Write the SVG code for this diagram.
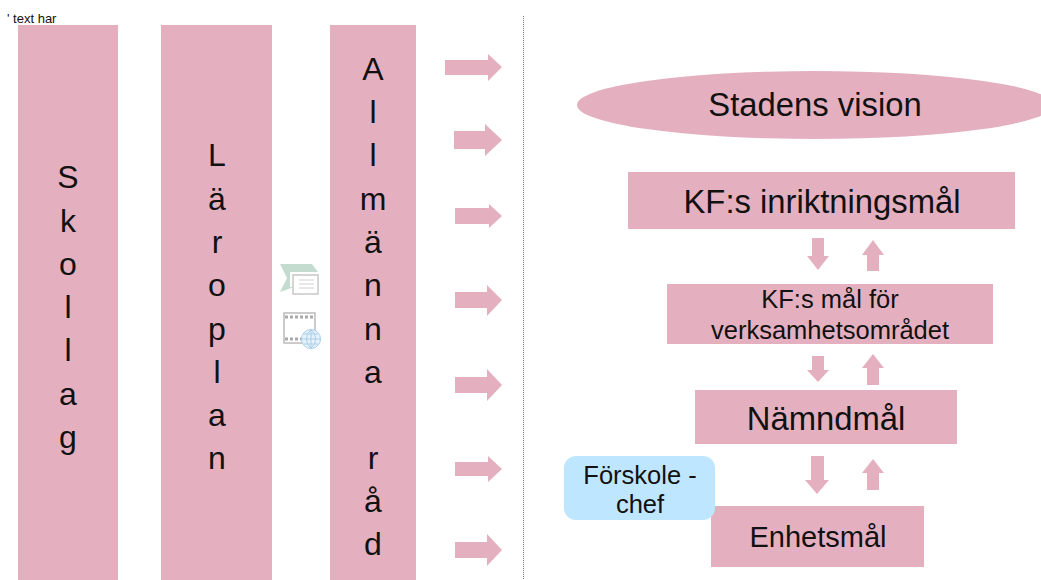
<svg xmlns="http://www.w3.org/2000/svg" width="1041" height="580" viewBox="0 0 1041 580">
<style>
.p{fill:#e4b0c0}
text{font-family:"Liberation Sans",Arial,sans-serif;fill:#111;text-anchor:middle}
.v{font-size:32px}
.a{fill:#e4b0c0}
</style>
<rect width="1041" height="580" fill="#fff"/>
<text x="7" y="23" style="font-size:13px;text-anchor:start">' text har</text>
<g id="skollag"><rect class="p" x="18" y="25" width="100" height="555"/>
<text class="v" x="68" y="188">S</text><text class="v" x="68" y="232">k</text><text class="v" x="68" y="275">o</text><text class="v" x="68" y="318">l</text><text class="v" x="68" y="361">l</text><text class="v" x="68" y="405">a</text><text class="v" x="68" y="448">g</text></g>
<g id="laroplan"><rect class="p" x="161" y="25" width="111" height="555"/>
<text class="v" x="217" y="166">L</text><text class="v" x="217" y="210">ä</text><text class="v" x="217" y="253">r</text><text class="v" x="217" y="296">o</text><text class="v" x="217" y="340">p</text><text class="v" x="217" y="383">l</text><text class="v" x="217" y="426">a</text><text class="v" x="217" y="469">n</text></g>
<g id="allmanna"><rect class="p" x="330" y="25" width="86" height="555"/>
<text class="v" x="373" y="80">A</text><text class="v" x="373" y="123">l</text><text class="v" x="373" y="166">l</text><text class="v" x="373" y="210">m</text><text class="v" x="373" y="253">ä</text><text class="v" x="373" y="296">n</text><text class="v" x="373" y="340">n</text><text class="v" x="373" y="383">a</text><text class="v" x="373" y="469">r</text><text class="v" x="373" y="512">å</text><text class="v" x="373" y="555">d</text></g>
<g id="icons">
<path d="M280,264H312L318,272H290V287H294L280,292L287,278Z" fill="#c4dcd0"/>
<rect x="293" y="275" width="25" height="19" fill="#fff" stroke="#c8c8c8" stroke-width="1.500"/>
<path d="M299,280H314M299,284H314M299,288H314" stroke="#d0d0d0"/>
<rect x="284" y="313" width="31" height="30" fill="#fff" stroke="#bbb" stroke-width="1.500"/>
<path d="M285,317H314M285,339H301" stroke="#aaa" stroke-width="3" stroke-dasharray="3 2"/>
<circle cx="311" cy="339" r="9.500" fill="#e6f2fb" stroke="#a8cfea"/>
<path d="M302,339H320M311,330V348M304,334H318M304,344H318M311,330C305,335 305,343 311,348C317,343 317,335 311,330" stroke="#a8cfea" fill="none"/>
</g>
<g id="connectors">
<line x1="523.500" y1="16" x2="523.500" y2="580" stroke="#777" stroke-dasharray="1 1"/>
<g class="a">
<path d="M445,60H488V54L502,67L488,81V75H445Z"/>
<path d="M454,131H485V124L502,140L485,156V149H454Z"/>
<path d="M455,208H489V204L502,216L489,228V224H455Z"/>
<path d="M455,292H487V285L502,300L487,316V308H455Z"/>
<path d="M455,377H487V369L502,385L487,401V393H455Z"/>
<path d="M455,462H488V456L502,469L488,482V476H455Z"/>
<path d="M455,542H487V534L502,550L487,566V558H455Z"/>
<path d="M812,238H824V256H829L818,270L807,256H812Z"/>
<path d="M873,240L884,255H879V271H867V255H862Z"/>
<path d="M812,356H824V370H829L818,382L807,370H812Z"/>
<path d="M873,354L884,368H879V385H867V368H862Z"/>
<path d="M811,456H824V480H829L817,494L805,480H811Z"/>
<path d="M873,459L884,473H879V490H867V473H862Z"/>
</g></g>
<g id="vision"><ellipse class="p" cx="815" cy="105" rx="238" ry="34"/><text x="815" y="116" font-size="32.800">Stadens vision</text></g>
<g id="inriktning"><rect class="p" x="628" y="172" width="387" height="57"/><text x="822" y="213" font-size="32.800">KF:s inriktningsmål</text></g>
<g id="verksamhet"><rect class="p" x="667" y="284" width="326" height="60"/><text x="830" y="308" font-size="25.500">KF:s mål för</text><text x="830" y="339" font-size="25.500">verksamhetsområdet</text></g>
<g id="namnd"><rect class="p" x="695" y="390" width="262" height="54"/><text x="826" y="430" font-size="32.800">Nämndmål</text></g>
<g id="enhet"><rect class="p" x="711" y="506" width="213" height="61"/><text x="818" y="547" font-size="29">Enhetsmål</text></g>
<g id="chef"><rect x="564" y="456" width="151" height="64" rx="12" fill="#bfe6ff"/><text x="640" y="484" font-size="25.500">Förskole -</text><text x="640" y="513" font-size="25.500">chef</text></g>
</svg>
